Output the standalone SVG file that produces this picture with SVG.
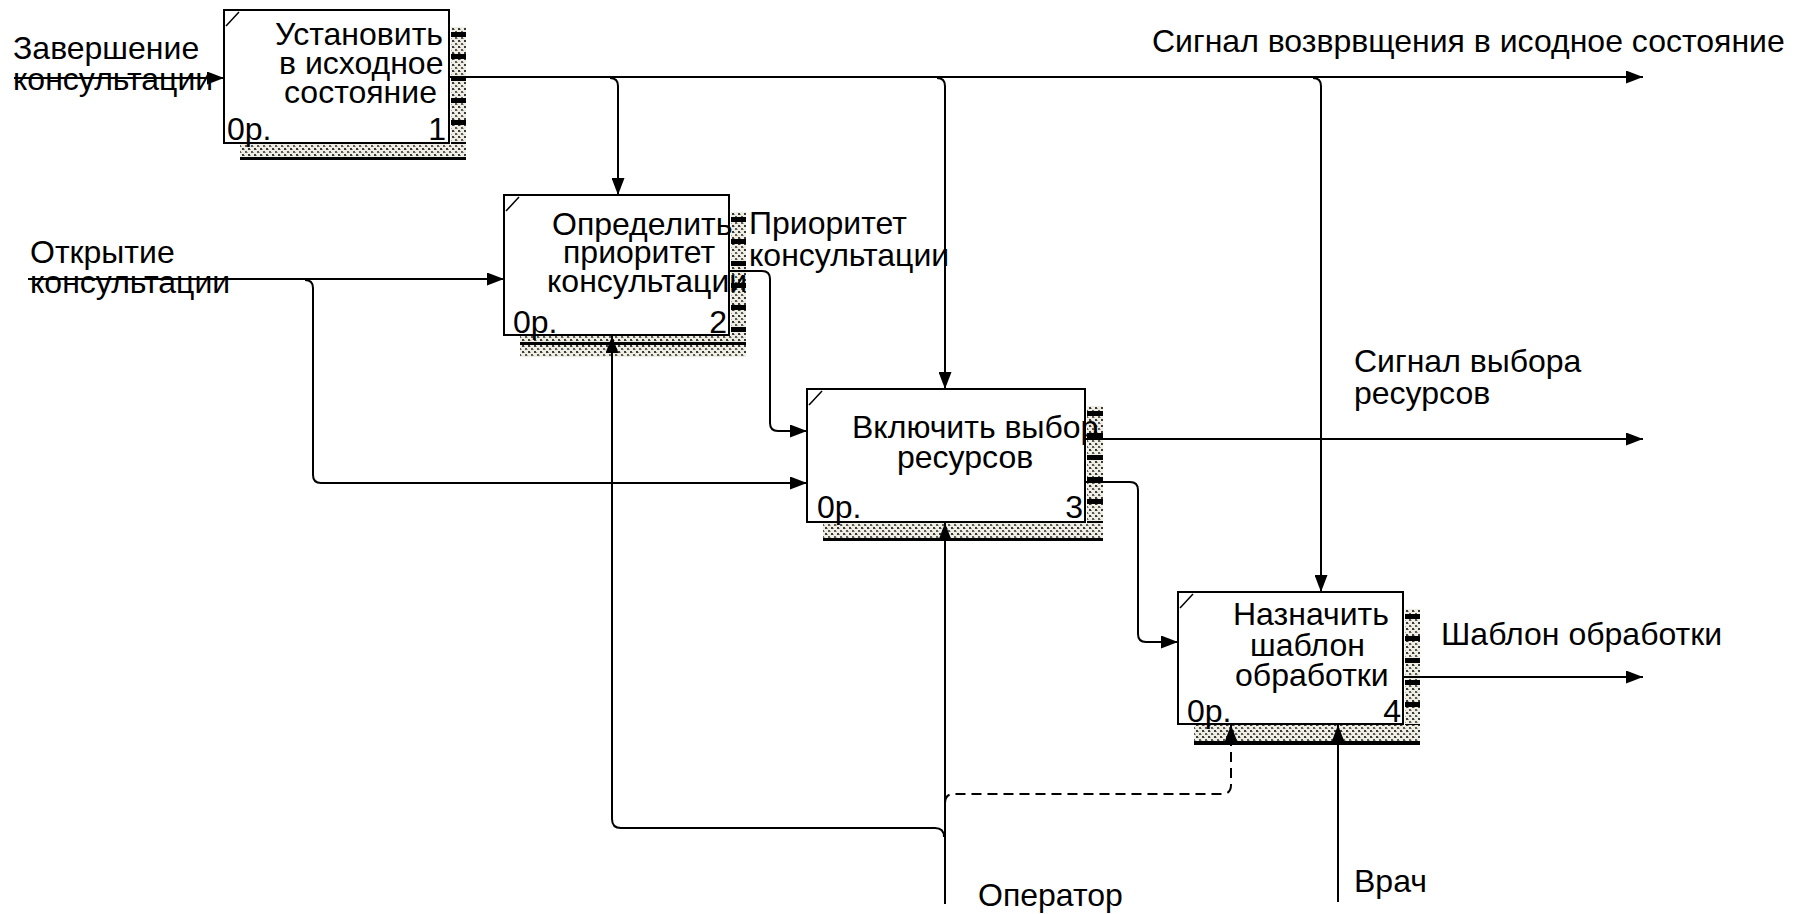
<svg xmlns="http://www.w3.org/2000/svg" width="1802" height="914" viewBox="0 0 1802 914">
<style>
text{font-family:"Liberation Sans",Arial,sans-serif;font-size:32px;fill:#000}
.box{fill:#fff;stroke:#000;stroke-width:2}
.diag{stroke:#000;stroke-width:1.5;fill:none}
.hatch{fill:url(#hatch)}
.ticks{fill:url(#ticks)}
.bline{fill:#000}
.c{fill:none;stroke:#000;stroke-width:2}
.arr{marker-end:url(#ah)}
.dash{stroke-dasharray:10 6}
.num{text-anchor:end}
</style>
<defs>
<pattern id="hatch" width="6" height="6" patternUnits="userSpaceOnUse">
<rect width="6" height="6" fill="#f0eee3"/>
<rect x="0" y="0" width="2" height="2" fill="#3a3a3a"/>
<rect x="3" y="3" width="2" height="2" fill="#5a5a5a"/>
<rect x="2" y="1" width="1" height="1" fill="#999"/>
<rect x="5" y="4" width="1" height="1" fill="#aaa"/>
</pattern>
<pattern id="ticks" width="20" height="22" patternUnits="userSpaceOnUse">
<rect x="0" y="0" width="20" height="5" fill="#000"/>
</pattern>
<marker id="ah" markerWidth="17" markerHeight="13" refX="17" refY="6.5" orient="auto" markerUnits="userSpaceOnUse">
<path d="M0,0 L17,6.5 L0,13 z" fill="#000"/>
</marker>
</defs>

<g id="labels">
<text x="13" y="59">Завершение</text>
<text x="13" y="90">консультации</text>
<text x="30" y="263">Открытие</text>
<text x="30" y="293">консультации</text>
<text x="1152" y="52">Сигнал возврвщения в исодное состояние</text>
<text x="749" y="234">Приоритет</text>
<text x="749" y="266">консультации</text>
<text x="1354" y="372">Сигнал выбора</text>
<text x="1354" y="404">ресурсов</text>
<text x="1441" y="645">Шаблон обработки</text>
<text x="978" y="906">Оператор</text>
<text x="1354" y="892">Врач</text>
</g>

<g id="node1" transform="translate(224,10)">
<rect class="hatch" x="227" y="17" width="15" height="133"/>
<rect class="ticks" x="227" y="17" width="15" height="133"/>
<rect class="hatch" x="16" y="134" width="226" height="16"/>
<rect class="bline" x="16" y="147" width="226" height="3"/>
<rect class="box" x="0" y="0" width="225" height="133"/>
<path class="diag" d="M2 16 L15 2"/>
<text x="51" y="35">Установить</text>
<text x="55" y="64">в исходное</text>
<text x="60" y="93">состояние</text>
<text x="3" y="130">0р.</text>
<text class="num" x="222" y="130">1</text>
</g>

<g id="node2" transform="translate(504,195)">
<rect class="hatch" x="227" y="17" width="15" height="145"/>
<rect class="ticks" x="227" y="17" width="15" height="145"/>
<rect class="hatch" x="16" y="141" width="226" height="21"/>
<rect class="bline" x="16" y="147" width="226" height="3"/>
<rect class="box" x="0" y="0" width="225" height="140"/>
<path class="diag" d="M2 16 L15 2"/>
<text x="48" y="40">Определить</text>
<text x="59" y="68">приоритет</text>
<text x="43" y="97">консультации</text>
<text x="9" y="138">0р.</text>
<text class="num" x="223" y="138">2</text>
</g>

<g id="node3" transform="translate(807,389)">
<rect class="hatch" x="280" y="17" width="16" height="135"/>
<rect class="ticks" x="280" y="17" width="16" height="135"/>
<rect class="hatch" x="16" y="134" width="280" height="18"/>
<rect class="bline" x="16" y="149" width="280" height="3"/>
<rect class="box" x="0" y="0" width="278" height="133"/>
<path class="diag" d="M2 16 L15 2"/>
<text x="45" y="49">Включить выбор</text>
<text x="90" y="79">ресурсов</text>
<text x="10" y="129">0р.</text>
<text class="num" x="276" y="129">3</text>
</g>

<g id="node4" transform="translate(1178,592)">
<rect class="hatch" x="227" y="17" width="15" height="136"/>
<rect class="ticks" x="227" y="17" width="15" height="136"/>
<rect class="hatch" x="16" y="133" width="226" height="20"/>
<rect class="bline" x="16" y="149" width="226" height="4"/>
<rect class="box" x="0" y="0" width="225" height="132"/>
<path class="diag" d="M2 16 L15 2"/>
<text x="55" y="33">Назначить</text>
<text x="72" y="64">шаблон</text>
<text x="57" y="94">обработки</text>
<text x="9" y="130">0р.</text>
<text class="num" x="223" y="130">4</text>
</g>

<g id="connectors">
<path class="c arr" d="M14 78 L224 78"/>
<path class="c arr" d="M449 77 L1643 77"/>
<path class="c arr" d="M610 78 Q618 78 618 86 L618 195"/>
<path class="c arr" d="M937 78 Q945 78 945 86 L945 389"/>
<path class="c arr" d="M1313 78 Q1321 78 1321 86 L1321 592"/>
<path class="c arr" d="M28 279 L504 279"/>
<path class="c arr" d="M305 280 Q313 280 313 288 L313 475 Q313 483 321 483 L807 483"/>
<path class="c arr" d="M729 271 L762 271 Q770 271 770 279 L770 423 Q770 431 778 431 L807 431"/>
<path class="c arr" d="M1085 439 L1643 439"/>
<path class="c arr" d="M1085 482 L1130 482 Q1138 482 1138 490 L1138 634 Q1138 642 1146 642 L1178 642"/>
<path class="c arr" d="M1403 677 L1643 677"/>
<path class="c arr" d="M945 904 L945 523"/>
<path class="c arr" d="M944 837 Q944 828 935 828 L621 828 Q612 828 612 819 L612 336"/>
<path class="c arr dash" d="M945 803 Q945 794 954 794 L1222 794 Q1231 794 1231 785 L1231 725"/>
<path class="c arr" d="M1338 902 L1338 725"/>
</g>
</svg>
